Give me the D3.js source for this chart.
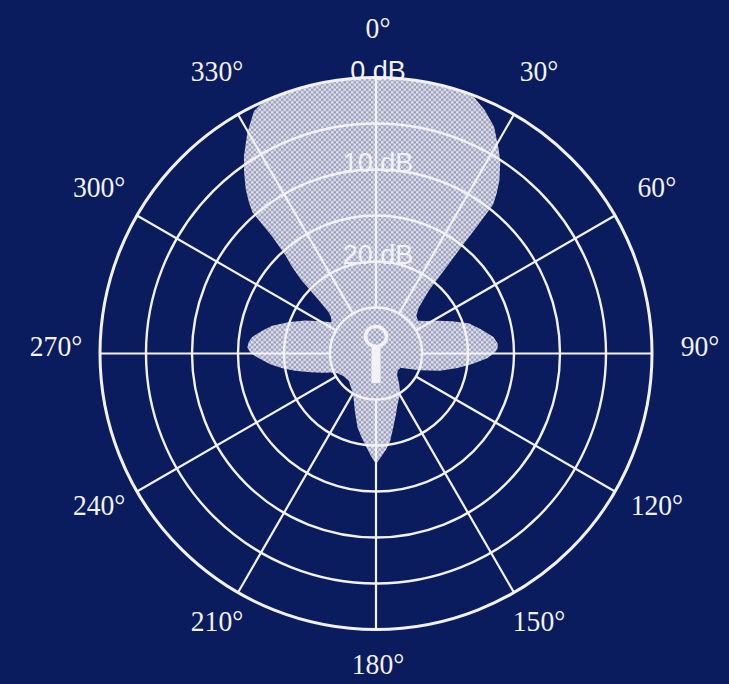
<!DOCTYPE html>
<html>
<head>
<meta charset="utf-8">
<script src="https://cdn.jsdelivr.net/npm/d3@7"></script>
<style>
  html, body { margin: 0; padding: 0; background: #0b1c5e; }
  svg { display: block; }
</style>
</head>
<body>
<svg id="chart" width="729" height="684"></svg>
<script>
// Directional response, level in dB relative to on-axis, angles clockwise from 0°
const responseAngles = [
  0, 10, 18, 21, 24, 27.5, 31, 33, 35.5, 37, 38.2, 38.5, 38.7, 39.2, 40, 43, 47,
  52, 57, 62, 67, 72, 77, 82, 85.5, 88, 90, 92.5, 96, 100, 105, 111, 115, 120,
  128, 136, 143, 149, 153, 157, 162, 167, 171, 174, 177, 180, 183, 186, 190,
  194, 200, 205, 210, 216, 225, 235, 243, 247, 250, 254, 258, 261, 264, 267.5,
  270, 272.7, 275, 277.5, 281, 285, 290, 295, 300, 305, 309, 311, 313, 314.5,
  316, 317.3, 318.4, 318.8, 320, 321.6, 324, 326.2, 329.8, 333.3, 336, 345, 355
];
const responseLevels = [
  0, 0, 0, -0.2, -1.0, -2.2, -4.1, -5.2, -6.9, -8.2, -9.4, -12.4, -15.2, -17.8, -21.0, -23.2, -24.0,
  -24.2, -23.5, -22.4, -21.0, -19.4, -18.3, -17.1, -16.7, -16.8, -17.2, -17.9, -19.4, -21.0, -22.8, -24.9, -26.0, -26.9,
  -27.0, -26.7, -25.8, -24.9, -24.5, -24.0, -23.0, -21.7, -20.3, -19.5, -18.8, -18.0, -18.9, -19.8, -20.8,
  -21.7, -23.3, -24.3, -25.0, -25.4, -25.8, -25.7, -25.3, -24.7, -23.9, -22.6, -21.0, -19.7, -18.5, -17.3,
  -16.4, -16.0, -16.1, -16.4, -17.3, -18.3, -20.0, -21.5, -23.0, -24.1, -23.7, -23.2, -21.5, -18.6,
  -16.8, -15.5, -13.0, -9.6, -8.5, -7.2, -5.6, -4.2, -2.2, -0.5, 0, 0, 0
];

const ringLevels = [-25, -20, -15, -10, -5, 0];
const spokeAngles = [0, 30, 60, 90, 120, 150, 180, 210, 240, 270, 300, 330];
const angleTickLabels = ["0°", "30°", "60°", "90°", "120°", "150°", "180°", "210°", "240°", "270°", "300°", "330°"];
const dbLabelLevels = [0, -10, -20];
const dbLabels = ["0 dB", "10 dB", "20 dB"];

const W = 729, H = 684;
const cx = 376, cy = 353.5, R = 276;
const BG = "#0b1c5e", INK = "#f2f2f4";

const svg = d3.select("#chart");
svg.append("rect").attr("width", W).attr("height", H).attr("fill", BG);

// halftone-like fill for the response area
const defs = svg.append("defs");
const pat = defs.append("pattern").attr("id", "dither")
  .attr("patternUnits", "userSpaceOnUse").attr("width", 5).attr("height", 5);
pat.append("rect").attr("width", 5).attr("height", 5).attr("fill", "#e1e2ec");
pat.append("rect").attr("width", 2.5).attr("height", 2.5).attr("fill", "#9a9cbb");
pat.append("rect").attr("x", 2.5).attr("y", 2.5).attr("width", 2.5).attr("height", 2.5).attr("fill", "#9a9cbb");

const rScale = d3.scaleLinear().domain([-30, 0]).range([0, R]);
const aScale = d3.scaleLinear().domain([0, 360]).range([0, 2 * Math.PI]);
const px = (deg, rad) => rad * Math.sin(aScale(deg));
const py = (deg, rad) => -rad * Math.cos(aScale(deg));

const g = svg.append("g").attr("transform", `translate(${cx},${cy})`);

// response area
const pts = responseAngles.map((d, i) => [aScale(d), rScale(responseLevels[i])]);
g.append("path")
  .attr("d", d3.lineRadial().angle(d => d[0]).radius(d => d[1]).curve(d3.curveLinearClosed)(pts))
  .attr("fill", "url(#dither)");

// rings
g.selectAll("circle.ring").data(ringLevels).join("circle")
  .attr("class", "ring")
  .attr("r", d => rScale(d))
  .attr("fill", "none")
  .attr("stroke", INK)
  .attr("stroke-width", d => d === 0 ? 3 : 2.4);

// spokes
const rIn = rScale(ringLevels[0]), rOut = rScale(0);
g.selectAll("line.spoke").data(spokeAngles).join("line")
  .attr("class", "spoke")
  .attr("x1", d => px(d, rIn)).attr("y1", d => py(d, rIn))
  .attr("x2", d => px(d, rOut)).attr("y2", d => py(d, rOut))
  .attr("stroke", INK)
  .attr("stroke-width", 2.2);

// microphone symbol at the centre
g.append("ellipse").attr("cx", 0).attr("cy", -17).attr("rx", 10.5).attr("ry", 10)
  .attr("fill", "url(#dither)").attr("stroke", INK).attr("stroke-width", 3.6);
g.append("rect").attr("x", -4.5).attr("y", -7.5).attr("width", 9).attr("height", 37)
  .attr("fill", INK);

// angle labels around the plot
const lab = { dx: 2, dy: -8, rx: 322, ry: 318 };
g.selectAll("text.ang").data(spokeAngles).join("text")
  .attr("class", "ang")
  .attr("transform", d => `translate(${lab.dx + px(d, lab.rx)},${lab.dy + py(d, lab.ry)}) scale(0.92,1)`)
  .attr("text-anchor", "middle")
  .attr("dominant-baseline", "central")
  .attr("font-family", "Liberation Serif, Times New Roman, serif")
  .attr("font-size", 30)
  .attr("fill", INK)
  .text((d, i) => angleTickLabels[i]);

// level labels on the 0° axis
g.selectAll("text.db").data(dbLabelLevels).join("text")
  .attr("class", "db")
  .attr("x", 2)
  .attr("y", d => -rScale(d) - 7)
  .attr("text-anchor", "middle")
  .attr("dominant-baseline", "central")
  .attr("font-family", "Liberation Sans, Arial, sans-serif")
  .attr("font-size", 27)
  .attr("fill", INK)
  .text((d, i) => dbLabels[i]);
</script>
</body>
</html>
